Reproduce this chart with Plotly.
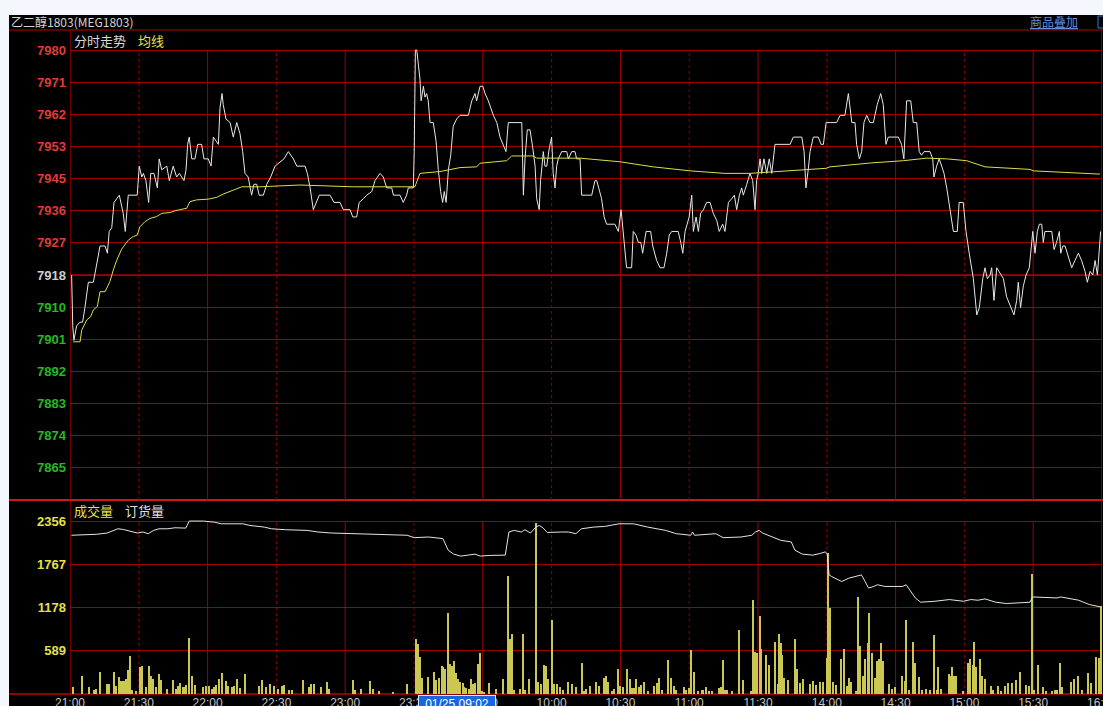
import plotly.graph_objects as go

W, H = 1103, 706

# ---------------- data ----------------
# minutes since 21:00 on the session axis, last price
price_time = [0.7, 1.2, 1.7, 2.9, 4.4, 5.5, 6.5, 8.0, 10.2, 11.3, 12.3, 13.1, 15.3, 16.3, 17.1, 18.2, 19.2, 21.5, 23.2, 24.1,
              25.4, 29.3, 30.2, 31.3, 32.0, 33.1, 34.3, 35.2, 36.6, 38.1, 38.9, 40.0, 42.2, 43.3, 45.0, 46.5, 47.7, 49.7, 50.6, 51.3,
              52.0, 53.1, 54.5, 55.7, 57.4, 58.4, 60.3, 61.5, 62.5, 64.7, 65.4, 66.3, 66.8, 68.0, 69.8, 71.2, 72.7, 74.1, 75.3, 76.3,
              77.7, 79.2, 80.2, 81.4, 82.5, 84.3, 85.8, 87.5, 89.4, 93.3, 95.2, 97.4, 98.9, 102.5, 103.5, 104.7, 106.1, 107.3, 108.7, 113.4,
              115.1, 117.7, 119.2, 122.1, 123.3, 125.0, 126.1, 127.9, 129.4, 131.6, 133.0, 135.2, 136.6, 138.1, 140.3, 141.0, 143.9, 145.3, 146.8, 147.5,
              149.7, 150.1, 150.6, 151.2, 151.9, 152.6, 153.1, 154.1, 154.8, 155.5, 156.2, 157.0, 158.4, 159.6, 160.6, 161.6, 162.5, 163.2, 164.0, 165.0,
              166.0, 167.1, 168.6, 170.1, 173.7, 175.2, 176.6, 177.3, 178.8, 180.0, 181.0, 182.4, 184.6, 186.1, 187.5, 188.9, 190.1, 191.1, 197.0, 197.7,
              198.4, 199.4, 200.6, 201.8, 202.8, 203.5, 204.6, 205.2, 206.4, 207.1, 207.9, 209.0, 210.0, 210.7, 211.5, 212.2, 212.9, 214.4, 216.6, 217.3,
              218.8, 220.2, 220.9, 222.4, 223.1, 227.5, 228.9, 229.7, 230.8, 231.8, 232.9, 234.0, 237.6, 239.1, 240.3, 241.3, 242.7, 244.9, 245.6, 246.8,
              247.8, 248.9, 249.7, 251.2, 253.2, 254.1, 255.8, 257.3, 259.0, 260.2, 261.3, 262.4, 265.2, 266.3, 267.2, 268.2, 269.2, 270.0, 271.1, 271.8,
              273.0, 274.0, 275.0, 276.2, 277.6, 279.1, 280.5, 282.0, 283.1, 284.6, 285.6, 287.1, 288.5, 289.7, 290.7, 291.9, 292.9, 293.6, 295.1, 296.5,
              297.7, 298.7, 299.4, 300.1, 300.9, 301.6, 302.6, 303.8, 304.9, 306.0, 307.4, 314.0, 315.4, 319.1, 320.1, 320.9, 321.9, 322.7, 324.1, 326.3,
              327.5, 328.5, 329.7, 334.3, 335.8, 337.9, 339.4, 340.9, 342.3, 343.0, 344.2, 345.2, 346.2, 347.4, 348.8, 350.3, 352.0, 353.5, 354.6, 355.8,
              356.8, 361.2, 362.6, 363.6, 364.8, 366.6, 367.7, 369.2, 370.3, 371.3, 372.4, 375.0, 376.2, 376.7, 377.9, 379.0, 380.1, 381.1, 382.3, 383.7,
              385.2, 386.9, 387.7, 389.5, 390.7, 392.1, 393.9, 395.4, 396.5, 398.0, 399.0, 400.0, 401.2, 401.9, 402.9, 404.1, 405.2, 407.0, 408.4, 410.2,
              411.6, 412.8, 413.5, 414.5, 415.7, 416.9, 418.3, 418.9, 419.8, 420.8, 421.8, 422.7, 423.7, 424.4, 425.1, 428.1, 429.1, 430.2, 431.4, 432.0,
              432.9, 433.9, 435.3, 436.8, 438.2, 439.7, 441.1, 442.6, 443.6, 444.8, 446.0, 447.0, 448.0, 448.8, 449.4]
price_val = [7918, 7904, 7900, 7904, 7905, 7905, 7909, 7916, 7916, 7920, 7923, 7926, 7926, 7924, 7930, 7931, 7938, 7940, 7935, 7930,
             7940, 7940, 7948, 7945, 7946, 7944, 7938, 7946, 7946, 7942, 7950, 7947, 7948, 7944, 7948, 7945, 7946, 7944, 7947, 7954,
             7956, 7950, 7950, 7954, 7954, 7950, 7950, 7948, 7956, 7954, 7964, 7968, 7965, 7961, 7960, 7956, 7960, 7957, 7952, 7946,
             7945, 7940, 7943, 7943, 7940, 7940, 7943, 7945, 7948, 7950, 7952, 7950, 7948, 7948, 7946, 7942, 7936, 7938, 7940, 7940,
             7938, 7938, 7936, 7936, 7934, 7934, 7938, 7939, 7940, 7941, 7944, 7946, 7945, 7942, 7942, 7940, 7940, 7938, 7940, 7942,
             7942, 7952, 7980, 7980, 7975, 7972, 7966, 7970, 7967, 7968, 7966, 7960, 7960, 7955, 7947, 7941, 7938, 7941, 7938, 7947,
             7951, 7959, 7961, 7962, 7962, 7966, 7968, 7966, 7970, 7970, 7968, 7966, 7962, 7960, 7956, 7954, 7952, 7960, 7960, 7940,
             7950, 7958, 7958, 7953, 7948, 7939, 7936, 7944, 7952, 7948, 7948, 7953, 7956, 7946, 7942, 7948, 7950, 7952, 7952, 7950,
             7952, 7952, 7950, 7950, 7940, 7940, 7944, 7944, 7941, 7939, 7934, 7932, 7932, 7930, 7936, 7930, 7920, 7920, 7930, 7929,
             7927, 7927, 7924, 7930, 7930, 7926, 7922, 7920, 7920, 7924, 7929, 7930, 7930, 7927, 7924, 7930, 7932, 7934, 7940, 7930,
             7934, 7930, 7935, 7936, 7938, 7938, 7935, 7933, 7930, 7932, 7930, 7938, 7939, 7940, 7936, 7940, 7942, 7940, 7943, 7946,
             7944, 7936, 7944, 7946, 7950, 7946, 7950, 7946, 7950, 7946, 7954, 7954, 7956, 7956, 7952, 7942, 7947, 7952, 7956, 7956,
             7954, 7954, 7960, 7960, 7962, 7962, 7968, 7960, 7960, 7954, 7950, 7952, 7960, 7962, 7960, 7960, 7965, 7968, 7965, 7954,
             7956, 7956, 7954, 7950, 7966, 7966, 7960, 7960, 7952, 7951, 7952, 7952, 7950, 7945, 7948, 7950, 7948, 7946, 7942, 7936,
             7930, 7930, 7938, 7938, 7930, 7924, 7917, 7907, 7909, 7917, 7920, 7917, 7918, 7920, 7911, 7920, 7919, 7917, 7912, 7909,
             7907, 7911, 7916, 7909, 7915, 7918, 7920, 7924, 7930, 7924, 7930, 7932, 7932, 7927, 7930, 7930, 7925, 7927, 7930, 7924,
             7926, 7926, 7923, 7920, 7922, 7924, 7922, 7919, 7916, 7919, 7918, 7922, 7918, 7924, 7930]

# average price (均线)
avg_time = [1.4, 4.4, 5.1, 7.3, 9.0, 10.2, 11.9, 13.1, 15.3, 17.4, 18.9, 20.4, 22.5, 25.4, 27.6, 29.3, 30.5, 32.7, 34.9, 37.8,
            40.0, 43.6, 45.8, 50.9, 52.3, 55.2, 60.3, 64.0, 66.8, 71.2, 74.9, 82.8, 100.3, 123.5, 150.0, 150.4, 152.6, 161.3, 170.1, 177.3,
            178.8, 190.4, 192.6, 202.0, 203.5, 222.4, 239.8, 254.3, 270.4, 285.6, 296.5, 308.2, 319.8, 329.7, 331.4, 349.6, 363.4, 373.6, 382.3, 391.0,
            399.0, 418.6, 420.0, 439.0, 449.1]
avg_val = [7899.6, 7899.6, 7902.8, 7905.6, 7906.5, 7908.4, 7909.3, 7913.4, 7913.4, 7916.2, 7919.4, 7922.1, 7925.1, 7927.6, 7928.6, 7929.0, 7931.3, 7932.7, 7933.6, 7934.1,
           7935.0, 7935.2, 7935.7, 7936.4, 7938.2, 7938.7, 7938.9, 7939.4, 7940.3, 7941.4, 7942.3, 7942.3, 7942.8, 7942.3, 7942.3, 7942.3, 7946.0, 7946.5, 7947.6, 7947.8,
           7948.8, 7949.5, 7950.8, 7950.8, 7950.2, 7950.2, 7949.2, 7947.8, 7946.7, 7946.0, 7946.0, 7946.5, 7946.9, 7947.4, 7947.8, 7948.9, 7949.5, 7950.2, 7950.0, 7949.5,
           7947.8, 7947.1, 7946.7, 7946.2, 7945.8]

# volume (成交量)
vol_time = [1.4, 5.3, 8.4, 10.3, 11.2, 13.1, 16.2, 17.0, 19.0, 20.1, 21.3, 22.1, 22.7, 23.7, 24.3, 25.1, 26.0, 27.1, 28.6, 30.5,
            31.5, 33.3, 34.4, 35.2, 36.1, 37.7, 38.9, 39.8, 42.4, 45.0, 46.1, 47.0, 48.1, 49.2, 50.1, 50.8, 52.0, 53.1, 54.3, 58.2,
            59.5, 60.6, 62.1, 62.9, 63.7, 64.8, 66.3, 68.1, 68.8, 70.7, 71.5, 73.0, 74.1, 76.1, 82.4, 83.9, 85.5, 87.1, 89.1, 90.6,
            92.5, 93.3, 95.3, 96.9, 101.5, 104.3, 105.3, 106.2, 109.3, 112.0, 113.1, 123.2, 124.4, 126.8, 131.0, 132.2, 134.6, 140.8, 147.0, 150.9,
            151.7, 152.8, 153.5, 156.1, 158.7, 159.8, 161.0, 162.0, 162.6, 163.4, 164.9, 165.7, 166.5, 167.3, 168.2, 169.1, 170.1, 171.2, 171.9, 172.7,
            173.8, 175.0, 175.8, 176.6, 177.9, 178.8, 179.7, 180.5, 182.8, 185.9, 188.8, 190.9, 191.9, 192.6, 193.7, 196.1, 197.6, 198.4, 200.0, 203.1,
            203.9, 205.4, 206.5, 207.4, 208.5, 210.1, 211.2, 212.4, 213.5, 215.1, 217.2, 218.7, 220.6, 223.1, 224.1, 225.0, 226.9, 229.2, 230.8, 232.8,
            233.6, 234.4, 236.3, 237.1, 238.9, 239.7, 241.0, 243.0, 244.1, 245.0, 246.0, 246.9, 248.0, 249.2, 250.3, 251.9, 254.7, 255.8, 256.9, 258.2,
            260.7, 262.1, 263.2, 264.4, 267.6, 268.8, 269.9, 271.0, 271.9, 273.8, 275.4, 276.2, 277.3, 278.5, 280.1, 282.9, 284.0, 284.8, 285.6, 286.6,
            288.7, 291.8, 293.5, 297.0, 297.8, 298.6, 299.4, 300.7, 301.5, 303.6, 304.7, 307.5, 308.6, 309.1, 309.9, 310.6, 311.4, 313.0, 316.1, 316.9,
            318.4, 319.7, 322.7, 324.2, 325.5, 327.1, 328.3, 329.9, 330.7, 331.5, 332.6, 334.1, 336.2, 337.7, 338.8, 339.6, 340.4, 342.8, 343.8, 344.6,
            345.6, 346.7, 347.8, 348.6, 349.8, 350.9, 351.8, 352.9, 353.7, 354.5, 357.1, 358.4, 359.7, 362.8, 363.9, 364.6, 365.9, 367.8, 368.6, 370.1,
            371.7, 373.3, 374.8, 376.9, 378.0, 378.7, 379.9, 383.1, 383.7, 384.6, 385.4, 386.5, 389.6, 391.5, 392.5, 393.6, 394.4, 395.1, 396.7, 397.8,
            399.0, 401.4, 402.5, 404.5, 406.1, 407.7, 409.2, 410.8, 412.4, 414.4, 417.0, 418.1, 419.4, 420.2, 422.2, 424.1, 425.7, 428.0, 429.6, 430.4,
            431.5, 432.7, 436.6, 437.9, 439.5, 441.3, 443.7, 445.2, 447.5, 448.5, 449.5]
vol_val = [92, 249, 92, 60, 69, 294, 137, 137, 294, 114, 226, 181, 181, 181, 204, 329, 518, 60, 47, 361,
           383, 92, 383, 249, 204, 92, 271, 195, 69, 195, 69, 105, 150, 92, 92, 123, 760, 240, 123, 92,
           114, 114, 69, 92, 123, 204, 285, 181, 114, 92, 114, 204, 78, 271, 114, 190, 92, 137, 114, 69,
           114, 123, 60, 60, 190, 92, 137, 137, 92, 168, 69, 195, 60, 69, 181, 69, 47, 33, 137, 746,
           678, 510, 213, 235, 294, 195, 213, 383, 374, 347, 1105, 406, 383, 451, 285, 204, 159, 150, 92, 78,
           69, 204, 137, 150, 406, 555, 47, 33, 150, 69, 204, 1610, 755, 814, 60, 69, 814, 60, 204, 2329,
           159, 137, 392, 383, 204, 1002, 137, 137, 92, 60, 159, 137, 92, 419, 47, 69, 114, 168, 105, 213,
           240, 159, 47, 69, 347, 114, 92, 347, 204, 78, 78, 204, 92, 123, 168, 47, 114, 150, 213, 60,
           464, 213, 114, 60, 92, 60, 78, 600, 303, 47, 60, 60, 92, 47, 47, 78, 92, 464, 60, 60,
           47, 870, 195, 47, 1284, 573, 564, 1059, 618, 528, 392, 708, 137, 814, 699, 528, 213, 195, 755, 347,
           150, 204, 137, 181, 123, 159, 168, 496, 1924, 1172, 159, 123, 474, 609, 105, 213, 159, 47, 1320, 654,
           249, 474, 690, 1105, 564, 213, 451, 474, 699, 451, 137, 69, 92, 249, 181, 1002, 60, 708, 419, 226,
           60, 69, 60, 800, 60, 374, 69, 271, 249, 374, 249, 240, 47, 428, 483, 392, 708, 374, 474, 249,
           204, 105, 60, 105, 47, 105, 150, 150, 195, 294, 123, 114, 1635, 60, 392, 92, 47, 47, 60, 60,
           419, 92, 159, 204, 249, 60, 285, 150, 510, 496, 1195]

# open interest (订货量), drawn against the volume scale as it appears
oi_time = [0.6, 11.5, 16.2, 20.9, 23.2, 25.5, 29.4, 31.8, 34.1, 36.5, 38.8, 42.7, 45.8, 50.5, 52.0, 58.2, 62.9, 66.0, 75.4, 78.5,
           84.7, 87.8, 94.1, 103.4, 108.1, 114.3, 125.2, 131.4, 140.8, 147.0, 150.1, 156.4, 162.6, 164.9, 167.3, 170.4, 173.5, 176.6, 178.9, 182.8,
           189.8, 191.4, 193.7, 196.8, 198.4, 200.8, 203.1, 204.6, 206.2, 208.1, 214.3, 217.4, 220.6, 223.0, 228.4, 233.1, 239.4, 245.7, 251.9, 259.7,
           264.4, 270.7, 271.5, 272.3, 281.6, 284.8, 292.6, 297.3, 298.9, 300.5, 302.0, 306.7, 309.9, 314.5, 316.1, 319.3, 323.9, 327.1, 329.4, 330.2,
           331.0, 332.1, 336.5, 339.6, 342.8, 345.1, 346.7, 348.2, 350.5, 352.1, 355.2, 363.1, 364.6, 366.2, 368.6, 370.9, 377.2, 383.4, 389.6, 392.8,
           395.9, 399.0, 403.7, 408.4, 414.7, 418.6, 419.7, 430.4, 432.0, 435.1, 439.8, 444.5, 449.2]
oi_val = [2162, 2175, 2192, 2250, 2241, 2219, 2192, 2206, 2183, 2228, 2250, 2250, 2264, 2259, 2355, 2355, 2340, 2318, 2318, 2295,
          2273, 2250, 2237, 2228, 2206, 2192, 2183, 2175, 2162, 2162, 2129, 2138, 2116, 1959, 1905, 1878, 1891, 1905, 1878, 1887,
          1891, 2206, 2228, 2206, 2237, 2192, 2273, 2295, 2264, 2200, 2206, 2206, 2183, 2250, 2273, 2282, 2318, 2318, 2273, 2228,
          2183, 2162, 2206, 2162, 2183, 2129, 2138, 2162, 2206, 2228, 2192, 2138, 2093, 2071, 1959, 1905, 1891, 1914, 1936, 1905,
          1622, 1600, 1532, 1577, 1600, 1622, 1532, 1443, 1465, 1488, 1465, 1465, 1488, 1420, 1308, 1250, 1263, 1286, 1263, 1286,
          1277, 1295, 1250, 1232, 1241, 1250, 1322, 1308, 1322, 1308, 1277, 1218, 1187]

prev_settle = 7918
price_step = 62 / 7
price_labels = ["7865", "7874", "7883", "7892", "7901", "7910", "7918",
                "7927", "7936", "7945", "7953", "7962", "7971", "7980"]
vol_step = 589
vol_labels = ["589", "1178", "1767", "2356"]
time_ticks = [0, 30, 60, 90, 120, 150, 180, 210, 240, 270, 300, 330, 360, 390, 420, 450]
time_labels = ["21:00", "21:30", "22:00", "22:30", "23:00", "23:30", "09:30", "10:00",
               "10:30", "11:00", "11:30", "14:00", "14:30", "15:00", "15:30", "16:00"]

# ---------------- geometry helpers ----------------
def fx(px):
    return px / W


def fy(px):
    return 1 - px / H


PL, PR = 70, 1102            # plot left / right (px)
TOP, P_GRID_TOP, SEP = 30, 50, 500
V_GRID_TOP, V_BOT = 521, 694

step_px = (SEP - P_GRID_TOP) / 14
p_lo = prev_settle - 7 * price_step
p_hi = prev_settle + 7 * price_step + (P_GRID_TOP - TOP) / step_px * price_step
v_hi = 4 * vol_step * (V_BOT - SEP) / (V_BOT - V_GRID_TOP)

RED = "#e23a3a"
GREEN = "#22bb22"
YEL = "#e6e244"
GRID = "#a00000"

price_tickvals = [prev_settle + (i - 6) * price_step for i in range(len(price_labels))]
price_ticktext = []
for lab in price_labels:
    v = int(lab)
    c = RED if v > prev_settle else ("#cfcfcf" if v == prev_settle else GREEN)
    price_ticktext.append(f'<span style="color:{c}">{lab}</span>')
vol_tickvals = [vol_step * (i + 1) for i in range(len(vol_labels))]
vol_ticktext = [f'<span style="color:{YEL}">{t}</span>' for t in vol_labels]

fig = go.Figure()
fig.add_trace(go.Scatter(x=price_time, y=price_val, mode="lines", name="分时走势",
                         line=dict(color="#e8e8e8", width=1), xaxis="x", yaxis="y"))
fig.add_trace(go.Scatter(x=avg_time, y=avg_val, mode="lines", name="均线",
                         line=dict(color="#dede48", width=1), xaxis="x", yaxis="y"))
fig.add_trace(go.Bar(x=vol_time, y=vol_val, width=0.45, name="成交量",
                     marker=dict(color="#cac853", line=dict(width=0)), xaxis="x2", yaxis="y2"))
fig.add_trace(go.Scatter(x=oi_time, y=oi_val, mode="lines", name="订货量",
                         line=dict(color="#e4e4e4", width=1), xaxis="x2", yaxis="y2"))

shapes = [
    dict(type="rect", xref="paper", yref="paper", x0=fx(9), x1=1, y0=0, y1=fy(15),
         fillcolor="#000000", line=dict(width=0), layer="below"),
    dict(type="line", xref="paper", yref="paper", x0=fx(9), x1=1, y0=fy(TOP), y1=fy(TOP),
         line=dict(color="#b80000", width=1), layer="below"),
    dict(type="line", xref="paper", yref="paper", x0=fx(9), x1=1, y0=fy(SEP), y1=fy(SEP),
         line=dict(color="#d01818", width=2), layer="below"),
    dict(type="line", xref="paper", yref="paper", x0=fx(9), x1=1, y0=fy(V_BOT), y1=fy(V_BOT),
         line=dict(color="#c00000", width=1.5), layer="below"),
    dict(type="line", xref="paper", yref="y", x0=fx(PL), x1=fx(PR), y0=prev_settle, y1=prev_settle,
         line=dict(color="#b00000", width=1.6), layer="below"),
    dict(type="rect", xref="paper", yref="paper", x0=fx(1098), x1=fx(1104), y0=fy(28), y1=fy(16),
         fillcolor="rgba(0,0,0,0)", line=dict(color="#3a78d8", width=1), layer="above"),
]
for t in time_ticks:
    if t == time_ticks[0] or t == time_ticks[-1]:
        shapes.append(dict(type="line", xref="x", yref="paper", x0=t, x1=t, y0=fy(V_BOT), y1=fy(TOP),
                           line=dict(color="#b80000", width=1.2), layer="below"))
        continue
    solid = (t % 60 == 0)
    ln = dict(color=GRID if solid else "#8a0000", width=1, dash="solid" if solid else "dot")
    shapes.append(dict(type="line", xref="x", yref="paper", x0=t, x1=t, y0=fy(SEP), y1=fy(P_GRID_TOP),
                       line=ln, layer="below"))
    shapes.append(dict(type="line", xref="x", yref="paper", x0=t, x1=t, y0=fy(V_BOT), y1=fy(V_GRID_TOP),
                       line=ln, layer="below"))

cjk = "Noto Sans CJK SC"
annotations = [
    dict(text="乙二醇1803(MEG1803)", x=fx(9), y=fy(22), xref="paper", yref="paper",
         xanchor="left", yanchor="middle", showarrow=False, font=dict(family=cjk, size=12, color="#d4d4d4")),
    dict(text="分时走势", x=fx(72), y=fy(40), xref="paper", yref="paper",
         xanchor="left", yanchor="middle", showarrow=False, font=dict(family=cjk, size=13, color="#d8d8d8")),
    dict(text="均线", x=fx(136), y=fy(40), xref="paper", yref="paper",
         xanchor="left", yanchor="middle", showarrow=False, font=dict(family=cjk, size=13, color=YEL)),
    dict(text="成交量", x=fx(72), y=fy(511), xref="paper", yref="paper",
         xanchor="left", yanchor="middle", showarrow=False, font=dict(family=cjk, size=13, color=YEL)),
    dict(text="订货量", x=fx(123), y=fy(511), xref="paper", yref="paper",
         xanchor="left", yanchor="middle", showarrow=False, font=dict(family=cjk, size=13, color="#e0e0e0")),
    dict(text="<u>商品叠加</u>", x=fx(1054), y=fy(21), xref="paper", yref="paper",
         xanchor="center", yanchor="middle", showarrow=False, font=dict(family=cjk, size=12, color="#5e90dc")),
    dict(text="01/25 09:02", x=fx(457), y=fy(695), xref="paper", yref="paper",
         xanchor="center", yanchor="top", showarrow=False, width=76, height=15,
         bgcolor="#1666de", bordercolor="#dfe8ff", borderwidth=1, borderpad=0,
         font=dict(family="Liberation Sans", size=12, color="#ffffff")),
]

fig.update_layout(
    width=W, height=H,
    margin=dict(l=0, r=0, t=0, b=0, autoexpand=False),
    paper_bgcolor="#f4f8fc",
    plot_bgcolor="rgba(0,0,0,0)",
    showlegend=False,
    shapes=shapes,
    annotations=annotations,
    xaxis=dict(domain=[fx(PL), fx(PR)], range=[0, 450], anchor="y", showgrid=False,
               showticklabels=False, zeroline=False, showline=False, fixedrange=True,
               automargin=False),
    yaxis=dict(domain=[fy(SEP), fy(TOP)], range=[p_lo, p_hi], anchor="x",
               tickmode="array", tickvals=price_tickvals, ticktext=price_ticktext,
               showgrid=True, gridcolor=GRID, gridwidth=1, zeroline=False, showline=False,
               ticks="", ticklabelstandoff=3, automargin=False,
               tickfont=dict(family="Liberation Sans", size=13, weight="bold")),
    xaxis2=dict(domain=[fx(PL), fx(PR)], range=[0, 450], anchor="y2", matches="x",
                tickmode="array", tickvals=time_ticks, ticktext=time_labels,
                showgrid=False, zeroline=False, showline=False, ticks="",
                ticklabelstandoff=0, automargin=False, ticklabeloverflow="allow",
                tickfont=dict(family="Liberation Sans", size=12, color="#c4c4c4")),
    yaxis2=dict(domain=[fy(V_BOT), fy(SEP)], range=[0, v_hi], anchor="x2",
                tickmode="array", tickvals=vol_tickvals, ticktext=vol_ticktext,
                showgrid=True, gridcolor=GRID, gridwidth=1, zeroline=False, showline=False,
                ticks="", ticklabelstandoff=3, automargin=False,
                tickfont=dict(family="Liberation Sans", size=13, weight="bold")),
    bargap=0,
)

# remove the page's default 8px body margin so the figure sits at the window's corner
fig.write_html("out.html",
               config={"displayModeBar": False},
               post_script="document.body.style.margin='0px';document.body.style.overflow='hidden';")
